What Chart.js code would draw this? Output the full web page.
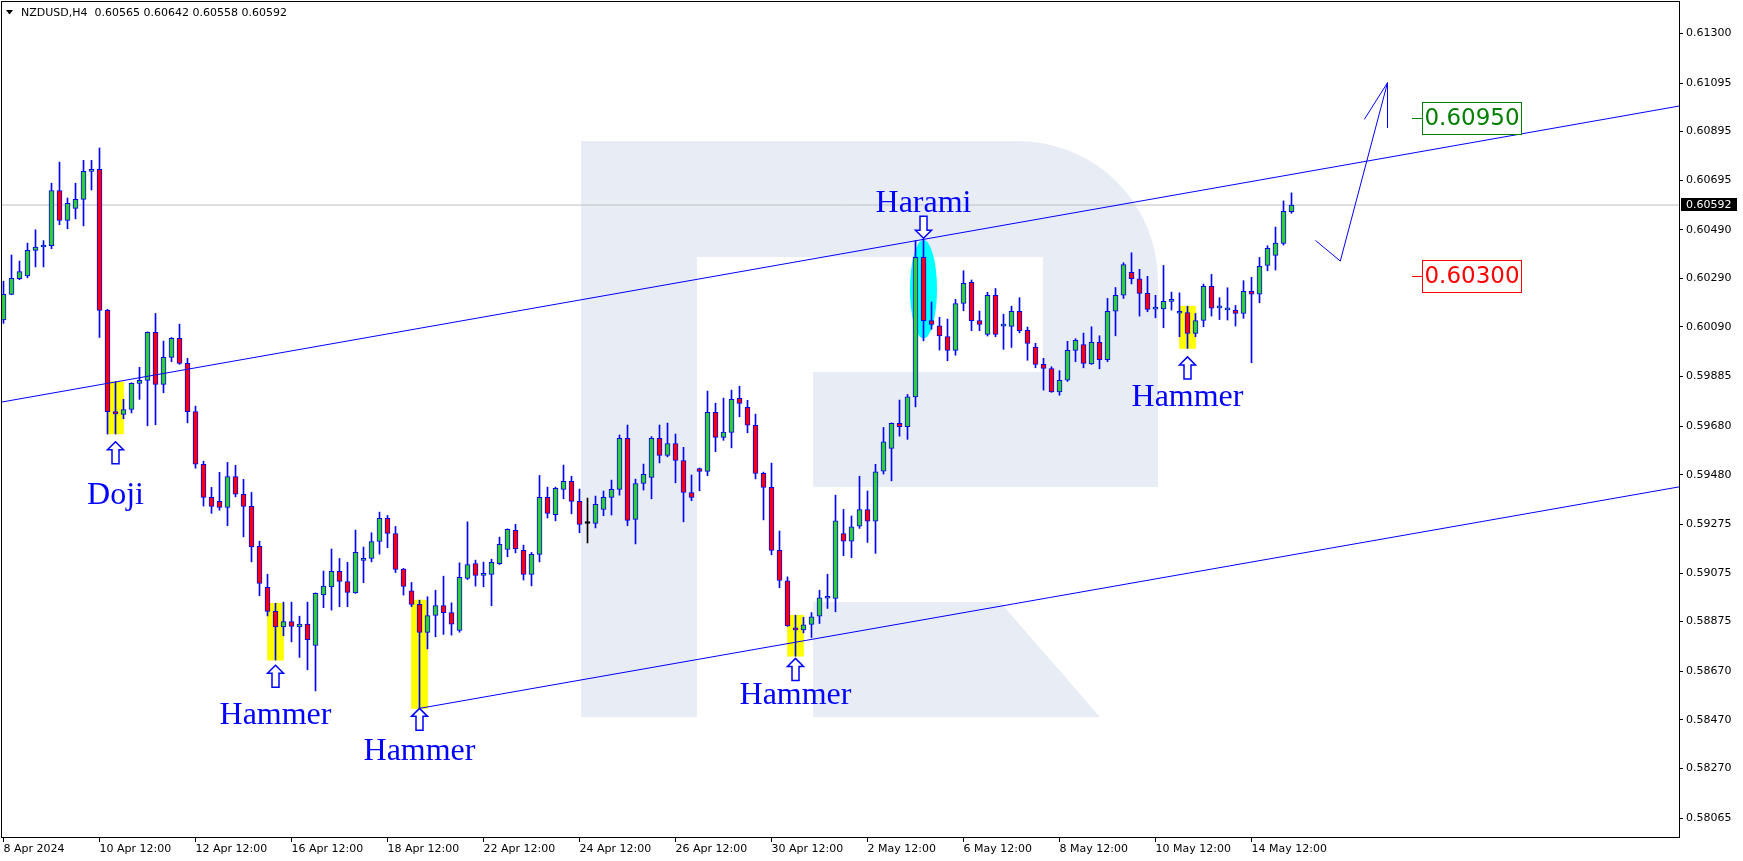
<!DOCTYPE html>
<html>
<head>
<meta charset="utf-8">
<script src="https://cdn.jsdelivr.net/npm/chart.js@4.4.1/dist/chart.umd.min.js"></script>
<style>
  html, body { margin: 0; padding: 0; background: #fff; }
  #wrap { width: 1743px; height: 861px; position: relative; }
</style>
</head>
<body>
<div id="wrap"><canvas id="chart" width="1743" height="861"></canvas></div>
<script>
// NZDUSD H4, one entry per candle (index 0 = 8 Apr 2024 12:00)
const opens = [0.60118,0.60224,0.60288,0.60300,0.60405,0.60419,0.60424,0.60652,0.60529,0.60578,0.60615,0.60731,0.60739,0.60158,0.59740,0.59729,0.59749,0.59857,0.59869,0.60067,0.59852,0.59964,0.60042,0.59939,0.59740,0.59523,0.59387,0.59370,0.59345,0.59473,0.59399,0.59350,0.59185,0.59016,0.58917,0.58853,0.58875,0.58853,0.58864,0.58776,0.58985,0.59018,0.59082,0.59040,0.58993,0.59127,0.59135,0.59205,0.59300,0.59238,0.59091,0.59002,0.58946,0.58830,0.58900,0.58941,0.58912,0.58838,0.59053,0.59114,0.59065,0.59069,0.59114,0.59172,0.59251,0.59168,0.59069,0.59152,0.59387,0.59316,0.59420,0.59453,0.59370,0.59279,0.59279,0.59337,0.59387,0.59420,0.59630,0.59296,0.59444,0.59469,0.59630,0.59560,0.59609,0.59539,0.59407,0.59506,0.59494,0.59737,0.59634,0.59655,0.59795,0.59758,0.59684,0.59486,0.59428,0.59168,0.59043,0.58849,0.58840,0.58863,0.58897,0.58971,0.58970,0.59238,0.59206,0.59268,0.59337,0.59289,0.59495,0.59589,0.59692,0.59678,0.59801,0.60376,0.60116,0.60094,0.60050,0.59993,0.60186,0.60273,0.60116,0.60059,0.60220,0.60093,0.60092,0.60154,0.60075,0.60006,0.59935,0.59918,0.59822,0.59870,0.59993,0.60017,0.59937,0.60026,0.59954,0.60154,0.60220,0.60315,0.60288,0.60228,0.60163,0.60164,0.60195,0.60146,0.60149,0.60063,0.60116,0.60257,0.60168,0.60160,0.60158,0.60145,0.60236,0.60225,0.60343,0.60384,0.60434,0.60565];
const highs = [0.60278,0.60386,0.60361,0.60435,0.60490,0.60445,0.60682,0.60769,0.60621,0.60682,0.60776,0.60776,0.60827,0.60162,0.59863,0.59791,0.59859,0.59923,0.60069,0.60145,0.60031,0.60046,0.60101,0.59960,0.59763,0.59536,0.59428,0.59490,0.59531,0.59519,0.59461,0.59407,0.59206,0.59070,0.58950,0.58955,0.58955,0.58897,0.58955,0.58993,0.59083,0.59174,0.59135,0.59119,0.59252,0.59182,0.59241,0.59326,0.59312,0.59267,0.59094,0.59036,0.58963,0.58977,0.59004,0.59062,0.58952,0.59117,0.59286,0.59128,0.59120,0.59132,0.59223,0.59257,0.59276,0.59190,0.59160,0.59477,0.59429,0.59429,0.59520,0.59474,0.59421,0.59384,0.59392,0.59413,0.59458,0.59644,0.59685,0.59462,0.59524,0.59637,0.59685,0.59693,0.59648,0.59593,0.59479,0.59508,0.59825,0.59775,0.59796,0.59829,0.59845,0.59787,0.59730,0.59491,0.59528,0.59248,0.59059,0.58901,0.58892,0.58912,0.59004,0.59070,0.59396,0.59337,0.59310,0.59474,0.59413,0.59523,0.59675,0.59694,0.59788,0.59811,0.60445,0.60450,0.60192,0.60129,0.60122,0.60203,0.60321,0.60283,0.60155,0.60232,0.60248,0.60142,0.60175,0.60210,0.60089,0.60022,0.59960,0.59925,0.59909,0.60030,0.60041,0.60064,0.60090,0.60053,0.60207,0.60252,0.60354,0.60395,0.60327,0.60298,0.60220,0.60343,0.60233,0.60230,0.60175,0.60145,0.60266,0.60306,0.60210,0.60251,0.60178,0.60280,0.60294,0.60376,0.60424,0.60501,0.60609,0.60642];
const lows = [0.60104,0.60222,0.60284,0.60292,0.60337,0.60337,0.60412,0.60511,0.60494,0.60535,0.60506,0.60654,0.60046,0.59648,0.59648,0.59711,0.59735,0.59791,0.59682,0.59686,0.59818,0.59946,0.59935,0.59694,0.59507,0.59351,0.59321,0.59334,0.59270,0.59389,0.59224,0.59121,0.58981,0.58898,0.58716,0.58816,0.58791,0.58727,0.58676,0.58589,0.58932,0.58922,0.58936,0.58936,0.58991,0.59035,0.59121,0.59153,0.59179,0.59077,0.58984,0.58936,0.58517,0.58762,0.58812,0.58822,0.58819,0.58831,0.59048,0.59021,0.59018,0.58940,0.59110,0.59142,0.59158,0.59046,0.59022,0.59121,0.59302,0.59290,0.59381,0.59319,0.59241,0.59199,0.59261,0.59311,0.59314,0.59396,0.59270,0.59195,0.59417,0.59381,0.59529,0.59554,0.59447,0.59286,0.59373,0.59414,0.59476,0.59575,0.59622,0.59591,0.59719,0.59653,0.59463,0.59294,0.59150,0.59014,0.58855,0.58732,0.58828,0.58809,0.58867,0.58929,0.58915,0.59146,0.59138,0.59259,0.59201,0.59156,0.59483,0.59455,0.59639,0.59626,0.59760,0.60032,0.60080,0.59994,0.59950,0.59973,0.60156,0.60074,0.60074,0.60052,0.60049,0.59997,0.60005,0.60065,0.59952,0.59921,0.59829,0.59820,0.59808,0.59865,0.59946,0.59921,0.59935,0.59917,0.59946,0.60053,0.60207,0.60267,0.60134,0.60152,0.60127,0.60086,0.60159,0.60049,0.60001,0.60049,0.60090,0.60134,0.60120,0.60118,0.60093,0.60125,0.59942,0.60189,0.60321,0.60324,0.60427,0.60558];
const closes = [0.60224,0.60290,0.60318,0.60405,0.60419,0.60420,0.60652,0.60529,0.60599,0.60615,0.60731,0.60739,0.60158,0.59740,0.59731,0.59749,0.59857,0.59869,0.60067,0.59852,0.59964,0.60042,0.59939,0.59740,0.59524,0.59387,0.59350,0.59345,0.59473,0.59400,0.59350,0.59183,0.59032,0.58917,0.58853,0.58875,0.58855,0.58864,0.58800,0.58991,0.59021,0.59082,0.59040,0.58995,0.59160,0.59136,0.59205,0.59300,0.59238,0.59090,0.59020,0.58946,0.58830,0.58900,0.58941,0.58912,0.58864,0.59057,0.59110,0.59065,0.59069,0.59119,0.59193,0.59255,0.59174,0.59069,0.59152,0.59387,0.59321,0.59424,0.59453,0.59370,0.59275,0.59279,0.59358,0.59387,0.59420,0.59630,0.59292,0.59444,0.59482,0.59630,0.59560,0.59609,0.59539,0.59407,0.59387,0.59494,0.59737,0.59634,0.59656,0.59791,0.59774,0.59684,0.59486,0.59428,0.59168,0.59044,0.58857,0.58840,0.58861,0.58894,0.58973,0.58974,0.59290,0.59206,0.59265,0.59337,0.59289,0.59492,0.59616,0.59692,0.59678,0.59801,0.60376,0.60115,0.60100,0.60052,0.59993,0.60186,0.60269,0.60115,0.60100,0.60220,0.60059,0.60096,0.60154,0.60074,0.60022,0.59935,0.59918,0.59822,0.59869,0.59993,0.60034,0.59939,0.60026,0.59954,0.60154,0.60220,0.60347,0.60288,0.60228,0.60162,0.60164,0.60195,0.60196,0.60147,0.60063,0.60116,0.60257,0.60167,0.60169,0.60161,0.60145,0.60236,0.60225,0.60339,0.60413,0.60435,0.60566,0.60592];

const xTickIdx = [0, 12, 24, 36, 48, 60, 72, 84, 96, 108, 120, 132, 144, 156];
const xTickLabels = ['8 Apr 2024', '10 Apr 12:00', '12 Apr 12:00', '16 Apr 12:00', '18 Apr 12:00', '22 Apr 12:00', '24 Apr 12:00', '26 Apr 12:00', '30 Apr 12:00', '2 May 12:00', '6 May 12:00', '8 May 12:00', '10 May 12:00', '14 May 12:00'];
const yTickLabels = ['0.61300', '0.61095', '0.60895', '0.60695', '0.60490', '0.60290', '0.60090', '0.59885', '0.59680', '0.59480', '0.59275', '0.59075', '0.58875', '0.58670', '0.58470', '0.58270', '0.58065'];

// channel lines, forecast arrow, targets
const upperLineX = [-0.19, 209.44];
const upperLineY = [0.59780, 0.61000];
const lowerLineX = [52, 209.44];
const lowerLineY = [0.58517, 0.59430];
const forecastX = [164, 167.1, 173];
const forecastY = [0.60446, 0.60361, 0.61096];
const arrowHeadX = [170.1, 173, 173];
const arrowHeadY = [0.60945, 0.61096, 0.60911];
const targetLevels = [0.60950, 0.60300];
const targetColors = ['#008000', '#ff0000'];

// candle pattern marks
const patternNames = ['Doji', 'Hammer', 'Hammer', 'Hammer', 'Harami', 'Hammer'];
const patternBars = [14, 34, 52, 99, 115, 148];
const patternArrowY = [0.59616, 0.58695, 0.58517, 0.58723, 0.60455, 0.59966];
const patternTextY = [0.59359, 0.58452, 0.58304, 0.58534, 0.60563, 0.59763];
const highlightBars = [14, 34, 52, 99, 148];

const lastPrice = closes[closes.length - 1];
const xMin = -0.1875, xMax = 209.4375;
const yMin = 0.579867, yMax = 0.614290;

const BLUE = '#0000ff', GREEN = '#32cd32', RED = '#ff0000';
const axisFont = { family: 'DejaVu Sans', size: 11 };

const candleIdx = opens.map((_, i) => i);
const isDoji = i => opens[i] === closes[i];

const overlay = {
    id: 'overlay',
    beforeDatasetsDraw(chart) {
        const { ctx, chartArea: a, scales: { x, y } } = chart;
        ctx.save();
        ctx.beginPath();
        ctx.rect(a.left, a.top, a.right - a.left, a.bottom - a.top);
        ctx.clip();
        // watermark logo
        ctx.fillStyle = '#e8edf5';
        ctx.fillRect(581, 141, 116, 576);
        ctx.beginPath();
        ctx.moveTo(697, 141);
        ctx.lineTo(1018, 141);
        ctx.arcTo(1158, 141, 1158, 281, 140);
        ctx.lineTo(1158, 487);
        ctx.lineTo(813, 487);
        ctx.lineTo(813, 372);
        ctx.lineTo(1043, 372);
        ctx.lineTo(1043, 257);
        ctx.lineTo(697, 257);
        ctx.closePath();
        ctx.fill();
        ctx.beginPath();
        ctx.moveTo(813, 602);
        ctx.lineTo(1000, 602);
        ctx.lineTo(1100, 717);
        ctx.lineTo(813, 717);
        ctx.closePath();
        ctx.fill();
        // harami ellipse
        const hx = x.getPixelForValue(115);
        const yt = y.getPixelForValue(0.60448), yb = y.getPixelForValue(0.60042);
        ctx.fillStyle = '#00ffff';
        ctx.beginPath();
        ctx.ellipse(hx, (yt + yb) / 2, 13.5, (yb - yt) / 2, 0, 0, Math.PI * 2);
        ctx.fill();
        ctx.restore();
    },
    afterDatasetsDraw(chart) {
        const { ctx, chartArea: a, scales: { x, y } } = chart;
        ctx.save();
        // hollow arrows + pattern names
        patternNames.forEach((name, k) => {
            const cx = x.getPixelForValue(patternBars[k]);
            const tip = y.getPixelForValue(patternArrowY[k]);
            const dir = name === 'Harami' ? -1 : 1; // 1 = arrow points up
            ctx.beginPath();
            ctx.moveTo(cx, tip);
            ctx.lineTo(cx + 8, tip + dir * 8);
            ctx.lineTo(cx + 3.5, tip + dir * 8);
            ctx.lineTo(cx + 3.5, tip + dir * 22);
            ctx.lineTo(cx - 3.5, tip + dir * 22);
            ctx.lineTo(cx - 3.5, tip + dir * 8);
            ctx.lineTo(cx - 8, tip + dir * 8);
            ctx.closePath();
            ctx.fillStyle = '#fff';
            ctx.fill();
            ctx.strokeStyle = BLUE;
            ctx.lineWidth = 1.5;
            ctx.stroke();
            ctx.font = '32px "Liberation Serif"';
            ctx.fillStyle = BLUE;
            ctx.textAlign = 'center';
            ctx.textBaseline = 'alphabetic';
            ctx.fillText(name, cx, y.getPixelForValue(patternTextY[k]));
        });
        // target level boxes
        targetLevels.forEach((lv, k) => {
            const py = Math.round(y.getPixelForValue(lv)) + 0.5;
            const bx = 1422.5, bw = 99, bh = 32;
            ctx.strokeStyle = targetColors[k];
            ctx.lineWidth = 1;
            ctx.beginPath();
            ctx.moveTo(1412, py);
            ctx.lineTo(bx, py);
            ctx.stroke();
            ctx.fillStyle = '#fff';
            ctx.fillRect(bx, py - bh / 2, bw, bh);
            ctx.strokeRect(bx, py - bh / 2, bw, bh);
            ctx.font = '23px "DejaVu Sans"';
            ctx.fillStyle = targetColors[k];
            ctx.textAlign = 'center';
            ctx.textBaseline = 'middle';
            ctx.fillText(lv.toFixed(5), bx + bw / 2, py + 1);
        });
        ctx.restore();
    },
    afterDraw(chart) {
        const { ctx, chartArea: a, scales: { y } } = chart;
        ctx.save();
        ctx.strokeStyle = '#000';
        ctx.lineWidth = 1;
        ctx.strokeRect(a.left - 0.5, a.top - 0.5, a.right - a.left + 1, a.bottom - a.top + 1);
        // current price tag
        const py = y.getPixelForValue(lastPrice);
        ctx.fillStyle = '#000';
        ctx.fillRect(a.right + 2, Math.round(py) - 7, 56, 13);
        ctx.fillStyle = '#fff';
        ctx.font = '11px "DejaVu Sans"';
        ctx.textAlign = 'left';
        ctx.textBaseline = 'middle';
        ctx.fillText(lastPrice.toFixed(5), a.right + 7, Math.round(py));
        // symbol header
        ctx.fillStyle = '#000';
        ctx.beginPath();
        ctx.moveTo(6, 10); ctx.lineTo(13, 10); ctx.lineTo(9.5, 14.5);
        ctx.closePath();
        ctx.fill();
        ctx.fillText('NZDUSD,H4  ' + [opens, highs, lows, closes].map(s => s[s.length - 1].toFixed(5)).join(' '), 21, 13);
        ctx.restore();
    }
};

const lineDs = (xs, ys, color, order) => ({
    type: 'line',
    data: xs.map((v, i) => ({ x: v, y: ys[i] })),
    borderColor: color,
    borderWidth: 1,
    pointRadius: 0,
    tension: 0,
    fill: false,
    order
});

new Chart(document.getElementById('chart'), {
    type: 'bar',
    data: {
        datasets: [
            {
                data: highlightBars.map(i => ({ x: i, y: [lows[i], highs[i]] })),
                backgroundColor: '#ffff00',
                barThickness: 16,
                grouped: false,
                order: 10
            },
            lineDs([xMin, xMax], [lastPrice, lastPrice], '#c0c0c0', 8),
            {
                data: candleIdx.map(i => ({ x: i, y: [lows[i], highs[i]] })),
                backgroundColor: ctx => isDoji(ctx.dataIndex) ? '#000' : BLUE,
                barThickness: 1,
                grouped: false,
                order: 6
            },
            {
                data: candleIdx.map(i => ({ x: i, y: [opens[i], closes[i]] })),
                backgroundColor: ctx => {
                    const i = ctx.dataIndex;
                    if (isDoji(i)) return '#000';
                    return closes[i] > opens[i] ? GREEN : RED;
                },
                borderColor: ctx => isDoji(ctx.dataIndex) ? '#000' : BLUE,
                borderWidth: 1,
                borderSkipped: false,
                barThickness: 5,
                minBarLength: 2,
                grouped: false,
                order: 5
            },
            lineDs(upperLineX, upperLineY, BLUE, 1),
            lineDs(lowerLineX, lowerLineY, BLUE, 1),
            lineDs(forecastX, forecastY, BLUE, 1),
            lineDs(arrowHeadX, arrowHeadY, BLUE, 1)
        ]
    },
    options: {
        responsive: false,
        animation: false,
        events: [],
        layout: { padding: { left: 2, top: 2, right: 0, bottom: 0 } },
        plugins: { legend: { display: false }, tooltip: { enabled: false } },
        scales: {
            x: {
                type: 'linear',
                min: xMin,
                max: xMax,
                offset: false,
                afterFit: s => { s.height = 24; s.paddingLeft = 0; s.paddingRight = 0; },
                afterBuildTicks: s => { s.ticks = xTickIdx.map(v => ({ value: v })); },
                ticks: {
                    callback: (v, i) => xTickLabels[i],
                    align: 'start',
                    autoSkip: false,
                    maxRotation: 0,
                    font: axisFont,
                    color: '#000',
                    padding: 1
                },
                grid: { drawOnChartArea: false, offset: false, tickLength: 5, color: '#000' },
                border: { color: '#000' }
            },
            y: {
                type: 'linear',
                position: 'right',
                min: yMin,
                max: yMax,
                afterFit: s => { s.width = 64; s.paddingTop = 0; s.paddingBottom = 0; },
                afterBuildTicks: s => { s.ticks = yTickLabels.map(t => ({ value: parseFloat(t) })); },
                ticks: {
                    callback: v => v.toFixed(5),
                    autoSkip: false,
                    font: axisFont,
                    color: '#000',
                    padding: 3
                },
                grid: { drawOnChartArea: false, tickLength: 4, color: '#000' },
                border: { color: '#000' }
            }
        }
    },
    plugins: [overlay]
});
</script>
</body>
</html>
